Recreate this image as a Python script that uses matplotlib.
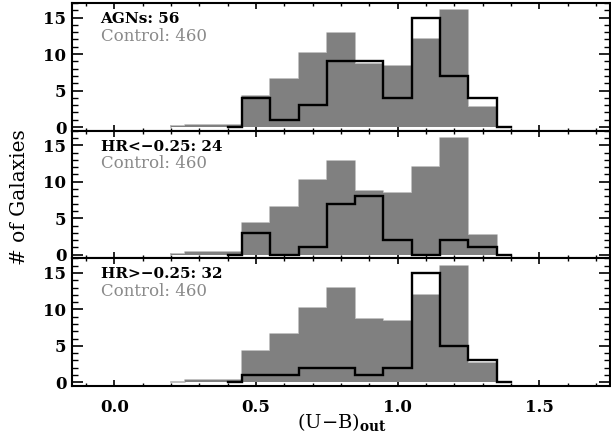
import numpy as np
import matplotlib
matplotlib.use('Agg')
import matplotlib.pyplot as plt
from matplotlib.ticker import MultipleLocator

plt.rcParams['font.family'] = ['DejaVu Serif']
plt.rcParams['mathtext.fontset'] = 'dejavuserif'

# Data (IDL psym=10 style histograms, bin width 0.1)
control_centers = [0.2, 0.3, 0.4, 0.5, 0.6, 0.7, 0.8, 0.9, 1.0, 1.1, 1.2, 1.3, 1.4]
control_values = [0.1, 0.3, 0.3, 4.3, 6.6, 10.2, 12.9, 8.7, 8.4, 12.0, 16.0, 2.7, 0.0]

agn_centers = [0.4, 0.5, 0.6, 0.7, 0.8, 0.9, 1.0, 1.1, 1.2, 1.3, 1.4]
agn_all = [0, 4, 1, 3, 9, 9, 4, 15, 7, 4, 0]
agn_soft = [0, 3, 0, 1, 7, 8, 2, 0, 2, 1, 0]
agn_hard = [0, 1, 1, 2, 2, 1, 2, 15, 5, 3, 0]

panel_labels = ['AGNs: 56', 'HR<\u22120.25: 24', 'HR>\u22120.25: 32']
control_label = 'Control: 460'
xtick_labels = ['0.0', '0.5', '1.0', '1.5']
xtick_values = [0.0, 0.5, 1.0, 1.5]
ytick_values = [0, 5, 10, 15]


def idl_steps(x, y):
    x = list(x)
    n = len(x)
    edges = [x[0]] + [(x[i] + x[i + 1]) / 2 for i in range(n - 1)] + [x[-1]]
    xs, ys = [], []
    for i in range(n):
        xs += [edges[i], edges[i + 1]]
        ys += [y[i], y[i]]
    return np.array(xs), np.array(ys)


W, H = 611, 436
fig = plt.figure(figsize=(W / 100, H / 100), dpi=100)

left = 72 / W
right = 610 / W
top_px, bot_px = 3, 386
ph = (bot_px - top_px) / 3

series = [agn_all, agn_soft, agn_hard]
axes = []
for i in range(3):
    y0 = top_px + i * ph
    ax = fig.add_axes([left, 1 - (y0 + ph) / H, right - left, ph / H])
    axes.append(ax)
    cx, cy = idl_steps(control_centers, control_values)
    ax.plot(cx, cy, color='#b4b4b4', lw=1.2, zorder=2)
    ax.plot([cx[0], cx[0]], [0, cy[0]], color='#b4b4b4', lw=1.2, zorder=2)
    ax.fill_between(cx, 0, cy, color='#808080', lw=0, zorder=2.5)
    ax_x, ax_y = idl_steps(agn_centers, series[i])
    ax.plot(ax_x, ax_y, color='black', lw=1.7, zorder=3, solid_joinstyle='miter')

    ax.set_xlim(-0.15, 1.75)
    ax.set_ylim(-0.5, 17)
    ax.xaxis.set_major_locator(MultipleLocator(0.5))
    ax.xaxis.set_minor_locator(MultipleLocator(0.1))
    ax.set_yticks(ytick_values)
    ax.yaxis.set_minor_locator(MultipleLocator(1))
    ax.tick_params(axis='x', which='major', direction='in', length=4, width=1.2,
                   top=True, bottom=True)
    ax.tick_params(axis='x', which='minor', direction='in', length=2.5, width=1.0,
                   top=True, bottom=True)
    ax.tick_params(axis='y', which='major', direction='in', length=8, width=1.2,
                   left=True, right=True, labelsize=12, pad=4)
    ax.tick_params(axis='y', which='minor', direction='in', length=4, width=1.0,
                   left=True, right=True)
    for lab in ax.get_yticklabels():
        lab.set_fontweight('bold')
    for s in ax.spines.values():
        s.set_linewidth(1.5)
    if i < 2:
        ax.set_xticklabels([])
    else:
        ax.set_xticks(xtick_values)
        ax.set_xticklabels(xtick_labels, fontweight='bold')
        ax.tick_params(axis='x', which='major', labelsize=12, pad=9)
    ax.text(0.053, 0.875, panel_labels[i], transform=ax.transAxes, fontsize=11,
            fontweight='bold', color='black', va='center', ha='left')
    ax.text(0.053, 0.74, control_label, transform=ax.transAxes, fontsize=12,
            color='#8a8a8a', va='center', ha='left')

fig.text(342 / W, 1 - 422 / H, r'(U$-$B)$_{\mathbf{out}}$', fontsize=14,
         ha='center', va='center')
fig.text(20 / W, 1 - 197 / H, '# of Galaxies', rotation=90, fontsize=14.5,
         ha='center', va='center')

fig.savefig('out.png', dpi=100)
